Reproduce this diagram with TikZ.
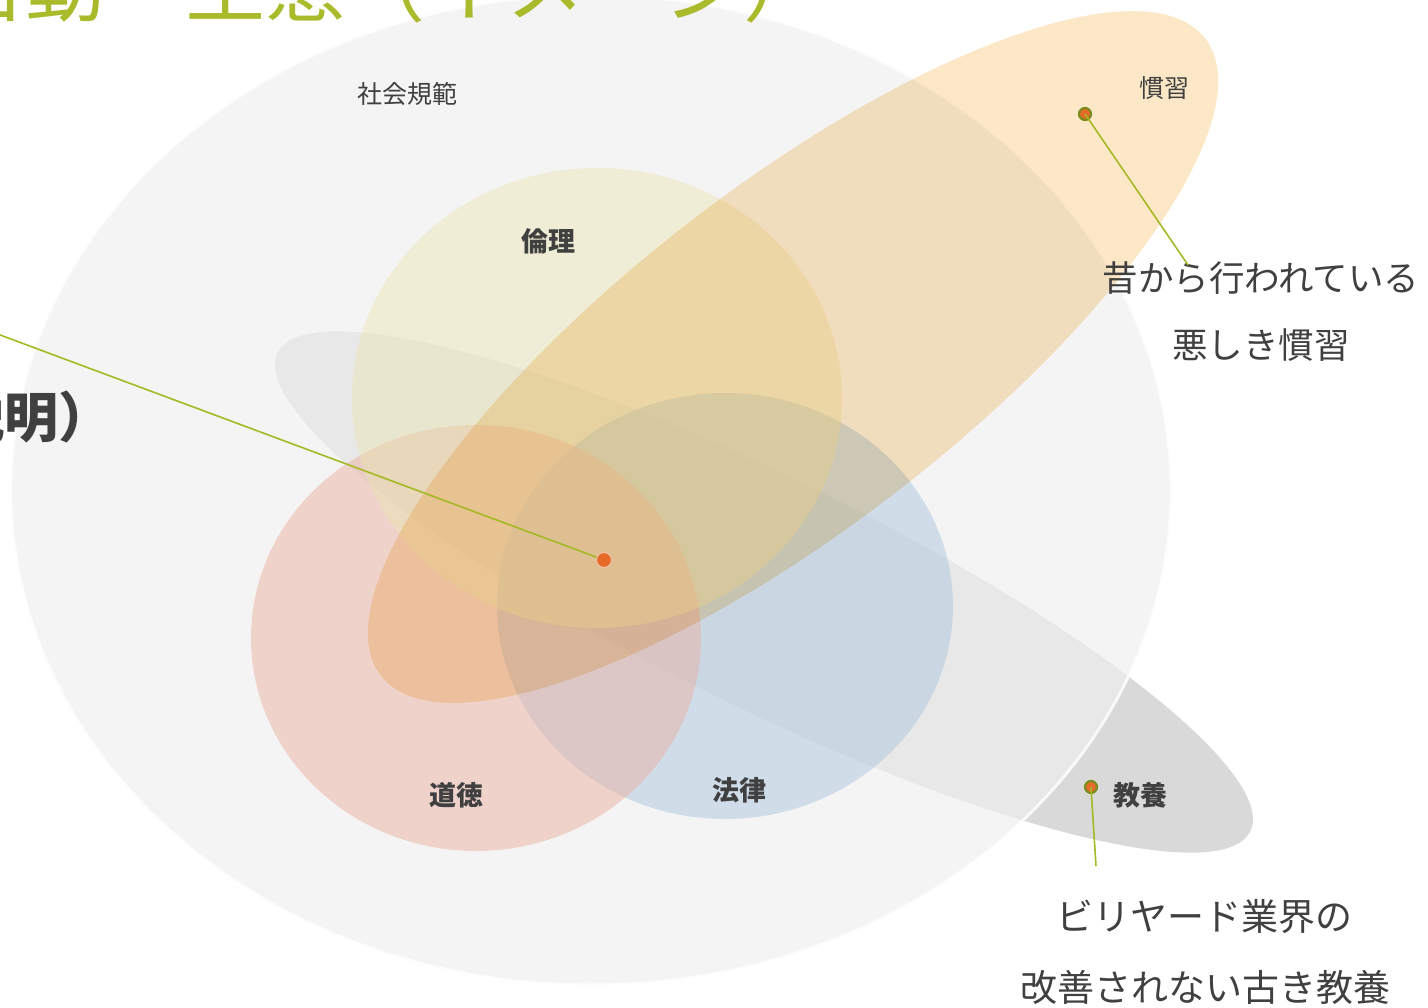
\documentclass[tikz,border=0pt]{standalone}
\usepackage{fontspec}
\setmainfont{Noto Sans CJK JP}
\definecolor{txt}{HTML}{404040}
\definecolor{lgreen}{HTML}{A4B924}
\definecolor{titlegreen}{HTML}{A9BA2A}
\definecolor{shakaic}{HTML}{EFEFEF}
\definecolor{kyoyoc}{HTML}{D9D9D9}
\definecolor{rinric}{HTML}{EBE4B1}
\definecolor{dotokuc}{HTML}{EBAD9B}
\definecolor{horitsuc}{HTML}{A6C4DE}
\definecolor{kanshuc}{HTML}{FCE8C7}
\definecolor{dotorange}{HTML}{E66A28}
\definecolor{pinrim}{HTML}{7A8C1C}
\begin{document}
\begin{tikzpicture}[x=1pt,y=-1pt,
  lbl/.style={text=txt, font=\fontsize{25}{30}\selectfont, inner sep=0pt},
  blbl/.style={text=txt, font=\fontsize{27}{32}\selectfont\bfseries, inner sep=0pt},
  notea/.style={text=txt, font=\fontsize{35.5}{42}\selectfont, inner sep=0pt},
  noteb/.style={text=txt, font=\fontsize{37}{44}\selectfont, inner sep=0pt},
  link/.style={draw=lgreen, line width=1.6pt},
  pinc/.style={circle, fill=dotorange, draw=pinrim, line width=2.2pt, minimum size=12pt, inner sep=0pt},
  hubc/.style={circle, fill=dotorange, draw=dotorange!40, line width=1pt, minimum size=15pt, inner sep=0pt},
  region/.style={fill opacity=.45}]
\useasboundingbox (0,0) rectangle (1428,1008);
\clip (0,0) rectangle (1428,1008);
% regions
\fill[kyoyoc, rotate around={-26.2:(764,592)}] (764,592) ellipse [x radius=542pt, y radius=115pt];
\filldraw[fill=shakaic, fill opacity=.71, draw=white, draw opacity=.8, line width=3pt] (591,490) ellipse [x radius=580pt, y radius=495pt];
\fill[horitsuc, region] (725,606) ellipse [x radius=228pt, y radius=213pt];
\fill[dotokuc, region] (476,638) ellipse [x radius=225pt, y radius=213pt];
\fill[rinric, region] (597,398) ellipse [x radius=245pt, y radius=230pt];
\fill[kanshuc, blend mode=multiply, rotate around={37.7:(793,357)}] (793,357) ellipse [x radius=521pt, y radius=170pt];
% title and side text (cut off by the frame, as in the reference)
\node[anchor=base west, inner sep=0pt, text=titlegreen, font=\fontsize{80}{90}\selectfont] (title) at (-55,16) {自動・生態（イメージ）};
\node[anchor=base east, inner sep=0pt, text=txt, font=\fontsize{54}{60}\selectfont\bfseries] (expl) at (113,437) {（説明）};
% labels
\node[lbl] (shakai) at (407,94) {社会規範};
\node[blbl] (rinri) at (548,241) {倫理};
\node[blbl] (dotoku) at (456,795) {道徳};
\node[blbl] (horitsu) at (739,790) {法律};
\node[lbl] (kanshu) at (1164,88) {慣習};
\node[blbl] (kyoyo) at (1140,795) {教養};
\node[notea] (n1a) at (1261,278) {昔から行われている};
\node[notea] (n1b) at (1261,345) {悪しき慣習};
\node[noteb] (n2a) at (1204,917) {ビリヤード業界の};
\node[noteb] (n2b) at (1205,987) {改善されない古き教養};
% pins and links
\coordinate (lend) at (-20,327.5);
\coordinate (e1) at (1188,265);
\coordinate (e2) at (1096,866);
\node[hubc] (hub) at (604,560) {};
\node[pinc] (p1) at (1085,114) {};
\node[pinc] (p2) at (1091,787) {};
\draw[link] (lend) -- (hub);
\draw[link] (p1.center) -- (e1);
\draw[link] (p2.center) -- (e2);
\end{tikzpicture}
\end{document}
